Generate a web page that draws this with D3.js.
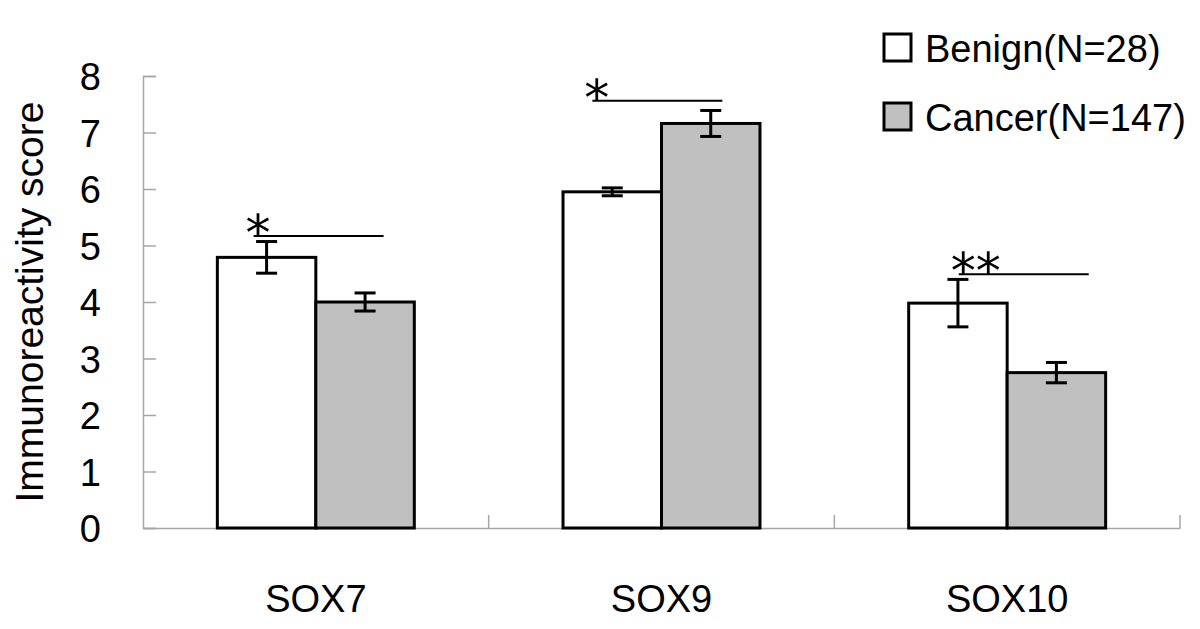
<!DOCTYPE html>
<html>
<head>
<meta charset="utf-8">
<script src="https://cdn.jsdelivr.net/npm/d3@7"></script>
<style>
  body { margin: 0; background: #fff; }
  svg { font-family: "Liberation Sans", Arial, sans-serif; }
</style>
</head>
<body>
<svg id="chart" width="1200" height="629"></svg>
<script>
// values
const categories = ["SOX7", "SOX9", "SOX10"];
const series = ["Benign(N=28)", "Cancer(N=147)"];
const benignMean = [4.79, 5.95, 3.98];
const benignErr = [0.28, 0.07, 0.42];
const cancerMean = [4.00, 7.16, 2.75];
const cancerErr = [0.16, 0.23, 0.18];
const yTicks = [0, 1, 2, 3, 4, 5, 6, 7, 8];
// significance marks: height (score), label, start inside the category band (fraction)
const sigY = [5.17, 7.56, 4.49];
const sigLabel = ["*", "*", "**"];
const sigFrom = [0.32, 0.30, 0.36];
const sigLen = 0.376;

const fills = ["#ffffff", "#c0c0c0"];

const svg = d3.select("#chart");
const plotL = 143, plotR = 1180, plotT = 76, plotB = 528;

const x0 = d3.scaleBand().domain(categories).range([plotL, plotR]);
const x1 = d3.scaleBand().domain(series).range([0, x0.bandwidth()])
    .paddingInner(0).paddingOuter(0.755);
const y = d3.scaleLinear().domain([0, 8]).range([plotB, plotT]);

// rows: one per bar
const rows = [];
categories.forEach((c, i) => {
    rows.push({ cat: c, s: series[0], v: benignMean[i], e: benignErr[i] });
    rows.push({ cat: c, s: series[1], v: cancerMean[i], e: cancerErr[i] });
});

// y axis (ticks point into the plot)
const yAxis = svg.append("g")
    .attr("transform", `translate(${plotL},0)`)
    .call(d3.axisRight(y).tickValues(yTicks).tickSize(13).tickFormat(d3.format("d")));
yAxis.select(".domain").attr("stroke", "#a6a6a6").attr("stroke-width", 1.5);
yAxis.selectAll(".tick line").attr("stroke", "#a6a6a6").attr("stroke-width", 1.5);
yAxis.selectAll(".tick text")
    .attr("x", -42).attr("text-anchor", "end")
    .attr("dy", "0.36em")
    .attr("font-size", 38).attr("fill", "#000");

// x axis
const xAxis = svg.append("g")
    .attr("transform", `translate(0,${plotB})`)
    .call(d3.axisBottom(x0).tickSize(0).tickPadding(0).tickSizeOuter(0));
xAxis.select(".domain").attr("stroke", "#a6a6a6").attr("stroke-width", 1.5);
xAxis.selectAll(".tick text")
    .attr("y", 84).attr("dy", 0)
    .attr("font-size", 38).attr("fill", "#000");

// category boundary ticks pointing up
svg.append("g").selectAll("line")
    .data(categories)
    .join("line")
    .attr("x1", d => x0(d) + x0.bandwidth())
    .attr("x2", d => x0(d) + x0.bandwidth())
    .attr("y1", plotB)
    .attr("y2", plotB - 13)
    .attr("stroke", "#a6a6a6")
    .attr("stroke-width", 1.5);

// bars
svg.append("g").selectAll("rect")
    .data(rows)
    .join("rect")
    .attr("x", d => x0(d.cat) + x1(d.s))
    .attr("y", d => y(d.v))
    .attr("width", x1.bandwidth())
    .attr("height", d => y(0) - y(d.v))
    .attr("fill", d => fills[series.indexOf(d.s)])
    .attr("stroke", "#000")
    .attr("stroke-width", 3);

// error bars
const eb = svg.append("g").attr("stroke", "#000").attr("stroke-width", 3);
const cx = d => x0(d.cat) + x1(d.s) + x1.bandwidth() / 2;
const capW = 10.5;
eb.selectAll(".stem").data(rows).join("line").attr("class", "stem")
    .attr("x1", cx).attr("x2", cx)
    .attr("y1", d => y(d.v + d.e)).attr("y2", d => y(d.v - d.e));
eb.selectAll(".capT").data(rows).join("line").attr("class", "capT")
    .attr("x1", d => cx(d) - capW).attr("x2", d => cx(d) + capW)
    .attr("y1", d => y(d.v + d.e)).attr("y2", d => y(d.v + d.e));
eb.selectAll(".capB").data(rows).join("line").attr("class", "capB")
    .attr("x1", d => cx(d) - capW).attr("x2", d => cx(d) + capW)
    .attr("y1", d => y(d.v - d.e)).attr("y2", d => y(d.v - d.e));

// significance lines and stars
const sig = categories.map((c, i) => ({ cat: c, y: sigY[i], label: sigLabel[i], from: sigFrom[i] }));
const sx = d => x0(d.cat) + d.from * x0.bandwidth();
svg.append("g").selectAll("line")
    .data(sig)
    .join("line")
    .attr("x1", sx)
    .attr("x2", d => sx(d) + sigLen * x0.bandwidth())
    .attr("y1", d => y(d.y)).attr("y2", d => y(d.y))
    .attr("stroke", "#000").attr("stroke-width", 2);
svg.append("g").selectAll("text")
    .data(sig)
    .join("text")
    .attr("x", d => sx(d) - 8)
    .attr("y", d => y(d.y) + 14)
    .attr("font-family", "DejaVu Sans")
    .attr("font-size", 50)
    .attr("fill", "#000")
    .text(d => d.label);

// y title
svg.append("text")
    .attr("transform", "translate(43,302) rotate(-90)")
    .attr("text-anchor", "middle")
    .attr("font-size", 39)
    .text("Immunoreactivity score");

// legend
const lg = svg.append("g").selectAll("g")
    .data(series)
    .join("g")
    .attr("transform", (d, i) => `translate(884,${34 + i * 69})`);
lg.append("rect")
    .attr("width", 27).attr("height", 27)
    .attr("fill", (d, i) => fills[i])
    .attr("stroke", "#000").attr("stroke-width", 3);
lg.append("text")
    .attr("x", 41).attr("y", 28)
    .attr("font-size", 38)
    .text(d => d);
</script>
</body>
</html>
